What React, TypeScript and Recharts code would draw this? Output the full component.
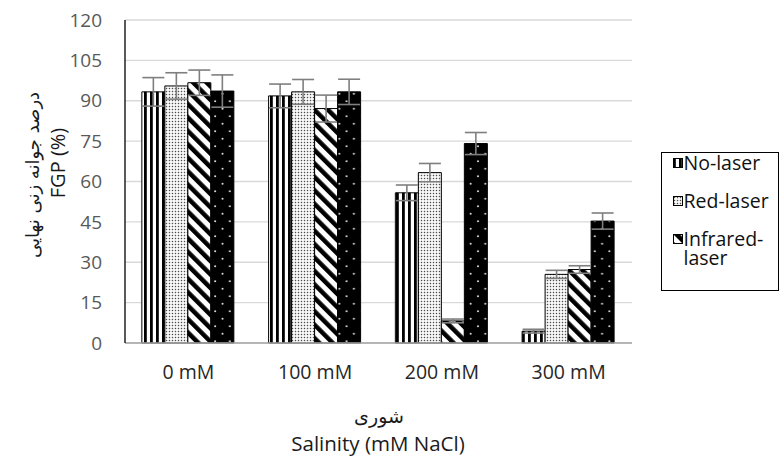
import React from 'react';
import { BarChart, Bar, XAxis, YAxis, CartesianGrid, ErrorBar } from 'recharts';

const CATEGORIES = ['0 mM', '100 mM', '200 mM', '300 mM'];
const NO_LASER = [93.3, 91.8, 55.8, 4.4];
const NO_LASER_ERR = [5.3, 4.4, 2.9, 0.7];
const RED_LASER = [95.5, 93.3, 63.3, 25.5];
const RED_LASER_ERR = [4.9, 4.6, 3.4, 1.5];
const INFRARED_LASER = [96.7, 87.1, 8.2, 27.3];
const INFRARED_LASER_ERR = [4.7, 5.0, 0.7, 1.4];
const COMBINED_LASER = [93.6, 93.3, 74.1, 45.3];
const COMBINED_LASER_ERR = [6.0, 4.7, 4.1, 3.0];
const Y_TICKS = [0, 15, 30, 45, 60, 75, 90, 105, 120];

const SERIES = [
  { key: 'noLaser', name: 'No-laser', pattern: 'pNo' },
  { key: 'redLaser', name: 'Red-laser', pattern: 'pRed' },
  { key: 'irLaser', name: 'Infrared-laser', pattern: 'pIr' },
  { key: 'combLaser', name: 'Red+Infrared-laser', pattern: 'pBlk' },
];
// the legend box in the reference only has room for the first three entries
const LEGEND_VISIBLE = 3;

const data = CATEGORIES.map((cat, i) => ({
  cat,
  noLaser: NO_LASER[i],
  noLaserErr: NO_LASER_ERR[i],
  redLaser: RED_LASER[i],
  redLaserErr: RED_LASER_ERR[i],
  irLaser: INFRARED_LASER[i],
  irLaserErr: INFRARED_LASER_ERR[i],
  combLaser: COMBINED_LASER[i],
  combLaserErr: COMBINED_LASER_ERR[i],
}));

const FONT = '"Open Sans", "DejaVu Sans", sans-serif';
const FA_FONT = '"DejaVu Sans", "Noto Sans", sans-serif';

function Patterns() {
  return (
    <svg width={0} height={0} style={{ position: 'absolute' }}>
      <defs>
        <pattern id="pNo" width={6} height={10} patternUnits="userSpaceOnUse">
          <rect width={6} height={10} fill="#fff" />
          <rect x={0} width={2.8} height={10} fill="#000" />
        </pattern>
        <pattern id="pRed" width={3} height={3} patternUnits="userSpaceOnUse">
          <rect width={3} height={3} fill="#fff" />
          <rect x={0.8} y={0.8} width={1.4} height={1.4} fill="#4d4d4d" />
        </pattern>
        <pattern id="pIr" width={9.5} height={10} patternUnits="userSpaceOnUse" patternTransform="rotate(-45)">
          <rect width={9.5} height={10} fill="#fff" />
          <rect x={0} width={4.5} height={10} fill="#000" />
        </pattern>
        <pattern id="pBlk" width={14.6} height={15} patternUnits="userSpaceOnUse">
          <rect width={14.6} height={15} fill="#000" />
          <circle cx={3.5} cy={3.75} r={1} fill="#e0e0e0" />
          <circle cx={10.8} cy={11.25} r={1} fill="#e0e0e0" />
        </pattern>
      </defs>
    </svg>
  );
}

function LegendBox() {
  return (
    <div
      style={{
        position: 'absolute',
        left: 661,
        top: 152,
        width: 118,
        height: 139,
        border: '1.5px solid #000',
        boxSizing: 'border-box',
        background: '#fff',
        fontFamily: FONT,
        fontSize: 19.5,
        color: '#111',
        paddingLeft: 10.5,
      }}
    >
      {SERIES.slice(0, LEGEND_VISIBLE).map((s, i) => (
        <div key={s.key} style={{ display: 'flex', alignItems: 'flex-start', marginTop: i === 0 ? 0 : 19, lineHeight: '19px' }}>
          <svg width={10} height={10} style={{ marginTop: 4.5, flex: 'none', marginRight: 1 }}>
            <rect x={0.5} y={0.5} width={9} height={9} fill={`url(#${s.pattern})`} stroke="#000" strokeWidth={1} />
          </svg>
          <span style={{ maxWidth: 92 }}>{s.name}</span>
        </div>
      ))}
    </div>
  );
}

export default function App() {
  return (
    <div style={{ position: 'absolute', left: 0, top: 0, width: 779, height: 457, background: '#fff' }}>
      <Patterns />
      <BarChart
        width={779}
        height={457}
        data={data}
        margin={{ top: 20, right: 147, bottom: 54, left: 0 }}
        barCategoryGap="13.3%"
        barGap={0}
      >
        <CartesianGrid vertical={false} stroke="#d9d9d9" strokeWidth={1.3} />
        <XAxis
          dataKey="cat"
          height={60}
          tickLine={false}
          tickSize={6}
          tickMargin={16}
          axisLine={{ stroke: '#a6a6a6', strokeWidth: 1.5 }}
          tick={{ fill: '#262626', fontSize: 19.5, fontFamily: FONT }}
        />
        <XAxis xAxisId="top" dataKey="cat" orientation="top" height={0} tick={false} tickLine={false} axisLine={{ stroke: '#000', strokeWidth: 1.3 }} />
        <YAxis
          width={125}
          domain={[0, 120]}
          ticks={Y_TICKS}
          interval={0}
          tickLine={false}
          tickSize={6}
          tickMargin={17}
          axisLine={{ stroke: '#000', strokeWidth: 1.3 }}
          tick={{ fill: '#595959', fontSize: 19, fontFamily: FONT }}
        />
        <YAxis yAxisId="right" orientation="right" width={0} domain={[0, 120]} tick={false} tickLine={false} axisLine={{ stroke: '#000', strokeWidth: 1.3 }} />
        {SERIES.map((s) => (
          <Bar key={s.key} dataKey={s.key} name={s.name} fill={`url(#${s.pattern})`} stroke="#000" strokeWidth={1} isAnimationActive={false}>
            <ErrorBar dataKey={`${s.key}Err`} width={11} stroke="#7f7f7f" strokeWidth={1.6} direction="y" isAnimationActive={false} />
          </Bar>
        ))}
      </BarChart>
      <LegendBox />
      <div style={{ position: 'absolute', left: 379, top: 416, transform: 'translate(-50%, -50%)', fontFamily: FA_FONT, fontSize: 19, color: '#1a1a1a', whiteSpace: 'nowrap', direction: 'rtl' }}>
        شوری
      </div>
      <div style={{ position: 'absolute', left: 378, top: 443, transform: 'translate(-50%, -50%)', fontFamily: FONT, fontSize: 20.5, color: '#1a1a1a', whiteSpace: 'nowrap' }}>
        Salinity (mM NaCl)
      </div>
      <div style={{ position: 'absolute', left: 32, top: 175, transform: 'translate(-50%, -50%) rotate(-90deg)', fontFamily: FA_FONT, fontSize: 18, color: '#1a1a1a', whiteSpace: 'nowrap', direction: 'rtl' }}>
        درصد جوانه زنی نهایی
      </div>
      <div style={{ position: 'absolute', left: 57, top: 163, transform: 'translate(-50%, -50%) rotate(-90deg)', fontFamily: FONT, fontSize: 20, color: '#1a1a1a', whiteSpace: 'nowrap' }}>
        FGP (%)
      </div>
    </div>
  );
}
